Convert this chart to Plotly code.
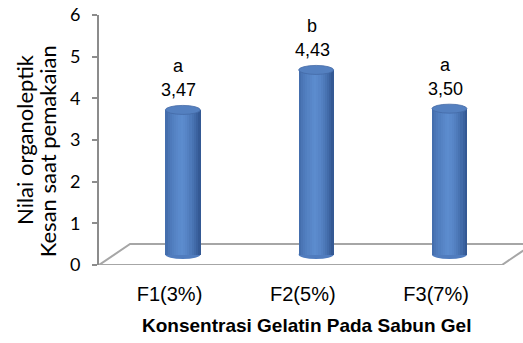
import plotly.graph_objects as go

categories = ["F1(3%)", "F2(5%)", "F3(7%)"]
values = [3.47, 4.43, 3.50]
value_labels = ["3,47", "4,43", "3,50"]
letters = ["a", "b", "a"]
y_ticks = [0, 1, 2, 3, 4, 5, 6]

x_title = "Konsentrasi Gelatin Pada Sabun Gel"
y_title_lines = ["Nilai organoleptik", "Kesan saat pemakaian"]

# geometry / style
depth_dx = 0.10          # 3D depth shift of bars in x units
bar_w = 0.2625
ry = 0.108               # ellipse half height in y units
n_strips = 16

def lerp(c1, c2, t):
    return tuple(int(round(a + (b - a) * t)) for a, b in zip(c1, c2))

dark_l = (62, 102, 165)
light = (92, 140, 206)
dark_r = (48, 84, 142)

def shade(t):
    if t < 0.45:
        return lerp(dark_l, light, (t / 0.45) ** 0.6)
    return lerp(light, dark_r, ((t - 0.45) / 0.55) ** 1.6)

xpos = [i + depth_dx for i in range(len(categories))]

fig = go.Figure()
for k in range(n_strips):
    t = (k + 0.5) / n_strips
    c = shade(t)
    fig.add_trace(go.Bar(
        x=xpos, y=values, base=0,
        width=[bar_w / n_strips + 0.002] * len(values),
        offset=-bar_w / 2 + k * bar_w / n_strips,
        marker=dict(color="rgb(%d,%d,%d)" % c, line=dict(width=0)),
        yaxis="y2", showlegend=False, hoverinfo="skip",
    ))

shapes = []
# floor
fx0, fx1 = -0.529, 2.494
ddx, ddy = 0.233, 0.504
shapes.append(dict(type="path", xref="x", yref="y", layer="below",
                   path=f"M {fx0},0 L {fx1},0 L {fx1+ddx},{ddy} L {fx0+ddx},{ddy} Z",
                   line=dict(color="#A6A6A6", width=2), fillcolor="rgba(0,0,0,0)"))
for xp, v in zip(xpos, values):
    # bottom ellipse
    shapes.append(dict(type="circle", xref="x", yref="y2", layer="below",
                       x0=xp - bar_w / 2, x1=xp + bar_w / 2, y0=-ry, y1=ry,
                       fillcolor="rgb(80,124,190)", line=dict(width=0)))
    # top ellipse
    shapes.append(dict(type="circle", xref="x", yref="y2", layer="above",
                       x0=xp - bar_w / 2, x1=xp + bar_w / 2, y0=v - ry, y1=v + ry,
                       fillcolor="rgb(84,128,192)", line=dict(color="rgb(68,106,166)", width=0.8)))

annotations = []
lab_font = dict(family="Liberation Sans, Arial", size=18, color="#000")
for xp, v, vl, le in zip(xpos, values, value_labels, letters):
    annotations.append(dict(x=xp, y=v, xref="x", yref="y2", text=vl, showarrow=False,
                            yanchor="bottom", yshift=8, xshift=-4, font=lab_font))
    annotations.append(dict(x=xp, y=v, xref="x", yref="y2", text=le, showarrow=False,
                            yanchor="bottom", yshift=32, xshift=-4, font=lab_font))

annotations.append(dict(x=0.489, y=-0.24, xref="paper", yref="paper", text="<b>" + x_title + "</b>",
                        showarrow=False, yanchor="middle",
                        font=dict(family="Liberation Sans, Arial", size=19, color="#000")))
annotations.append(dict(x=0, y=0.50, xref="paper", yref="paper", text=y_title_lines[0],
                        showarrow=False, textangle=-90, xanchor="center", yanchor="middle",
                        xshift=-75, font=dict(family="Lato", size=22, color="#000")))
annotations.append(dict(x=0, y=0.455, xref="paper", yref="paper", text=y_title_lines[1],
                        showarrow=False, textangle=-90, xanchor="center", yanchor="middle",
                        xshift=-52, font=dict(family="Lato", size=22, color="#000")))

fig.update_layout(
    width=523, height=343,
    margin=dict(l=99, r=0, t=15, b=78),
    paper_bgcolor="white", plot_bgcolor="white",
    barmode="overlay", bargap=0,
    shapes=shapes, annotations=annotations,
    xaxis=dict(range=[-0.529, 2.652], tickvals=list(range(len(categories))), ticktext=categories,
               showgrid=False, zeroline=False, showline=False, ticks="",
               tickfont=dict(family="Liberation Sans, Arial", size=20, color="#000"),
               ticklabelstandoff=15),
    yaxis=dict(range=[0, 6], tickvals=y_ticks, showgrid=False, zeroline=False,
               showline=True, linecolor="#8C8C8C", linewidth=2,
               ticks="outside", ticklen=5, tickcolor="#8C8C8C", tickwidth=1.5,
               tickfont=dict(family="Lato", size=18, color="#000"), ticklabelstandoff=8),
    yaxis2=dict(range=[-0.252, 5.748], overlaying="y", visible=False),
    showlegend=False,
)

fig.write_html("out.html")
